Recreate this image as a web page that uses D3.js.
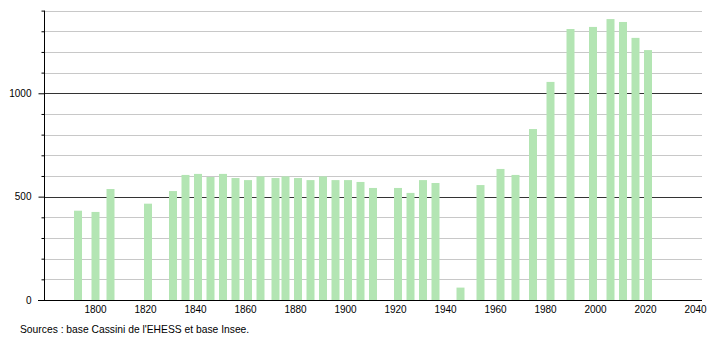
<!DOCTYPE html>
<html>
<head>
<meta charset="utf-8">
<script src="https://cdn.jsdelivr.net/npm/d3@7"></script>
<style>
  body { margin: 0; background: #fff; }
  svg { display: block; font-family: "Liberation Sans", Arial, sans-serif; }
  .axis path, .axis line { stroke: #000; }
  .axis text { font-size: 10px; fill: #000; }
</style>
</head>
<body>
<svg class="chart" width="710" height="340"></svg>
<script>
// census years and population
const years = [1793, 1800, 1806, 1821, 1831, 1836, 1841, 1846, 1851, 1856,
  1861, 1866, 1872, 1876, 1881, 1886, 1891, 1896, 1901, 1906,
  1911, 1921, 1926, 1931, 1936, 1946, 1954, 1962, 1968, 1975,
  1982, 1990, 1999, 2006, 2011, 2016, 2021]
const population = [432, 426, 537, 466, 527, 605, 610, 595, 610, 590,
  580, 598, 590, 598, 590, 580, 598, 580, 580, 571,
  542, 542, 518, 580, 566, 60, 556, 634, 605, 827,
  1055, 1311, 1321, 1359, 1345, 1268, 1209]
const xTicks = [1800, 1820, 1840, 1860, 1880, 1900, 1920, 1940, 1960, 1980, 2000, 2020, 2040]
const yLabels = [0, 500, 1000]
const source = "Sources : base Cassini de l'EHESS et base Insee."

const plotLeft = 44, plotRight = 702, plotTop = 10.6, plotBottom = 300

const svg = d3.select('.chart')

const x = d3.scaleLinear().domain([1779.6, 2042.8]).range([plotLeft, plotRight])
const y = d3.scaleLinear().domain([0, 1400]).range([plotBottom, plotTop])

// grid lines every 100, darker at 500 and 1000
const grid = d3.range(100, 1401, 100)
svg.append('g')
  .selectAll('line')
  .data(grid)
  .enter().append('line')
  .attr('x1', plotLeft)
  .attr('x2', plotRight)
  .attr('y1', d => Math.round(y(d)) + 0.5)
  .attr('y2', d => Math.round(y(d)) + 0.5)
  .attr('stroke', d => yLabels.includes(d) ? '#333' : '#c8c8c8')
  .attr('stroke-width', 1)

// bars
svg.append('g')
  .selectAll('rect')
  .data(years)
  .enter().append('rect')
  .attr('x', (d) => x(d) - 3.5)
  .attr('width', 8)
  .attr('y', (d, i) => y(population[i]))
  .attr('height', (d, i) => plotBottom - y(population[i]))
  .attr('fill', '#b3e5b3')

// y axis: minor ticks every 100, labels on 0 / 500 / 1000
const yAxis = d3.axisLeft(y)
  .tickValues(d3.range(0, 1401, 100))
  .tickSize(3)
  .tickFormat(d => yLabels.includes(d) ? d : '')
svg.append('g')
  .attr('class', 'axis')
  .attr('transform', `translate(${plotLeft + 0.5},0)`)
  .call(yAxis)
  .call(g => g.select('.domain').attr('d', `M0,${plotTop}V${plotBottom}`))
  .call(g => g.selectAll('.tick')
    .filter(d => yLabels.includes(d))
    .select('line').attr('x2', -6))
  .call(g => g.selectAll('.tick text').attr('x', -13))

// x axis
const xAxis = d3.axisBottom(x)
  .tickValues(xTicks)
  .tickSize(0)
  .tickPadding(5)
  .tickFormat(d3.format('d'))
svg.append('g')
  .attr('class', 'axis')
  .attr('transform', `translate(0,${plotBottom + 0.5})`)
  .call(xAxis)
  .call(g => g.select('.domain').attr('d', `M${plotLeft - 6},0H${plotRight}`))

svg.append('text')
  .attr('x', 20)
  .attr('y', 333)
  .attr('font-size', 10.3)
  .text(source)
</script>
</body>
</html>
